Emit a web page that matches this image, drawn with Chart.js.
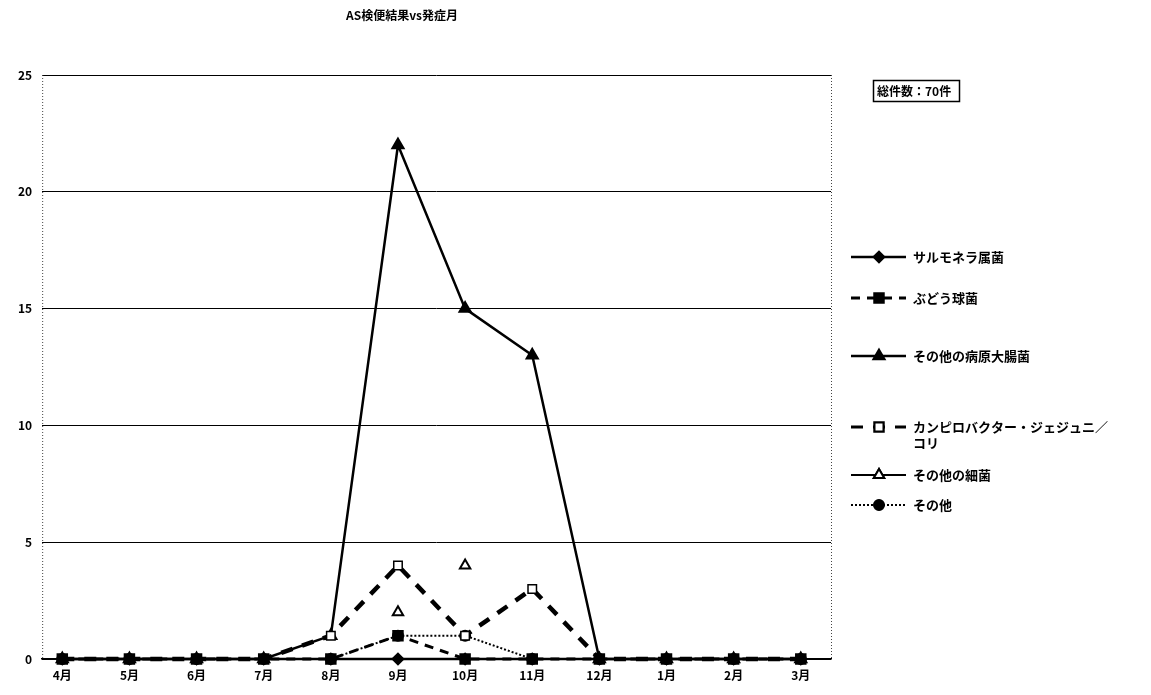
<!DOCTYPE html>
<html>
<head>
<meta charset="utf-8">
<script src="https://cdn.jsdelivr.net/npm/chart.js@4"></script>
<style>
  body { margin: 0; background: #fff; }
  #wrap { position: relative; width: 1151px; height: 695px; }
</style>
</head>
<body>
<div id="wrap"><canvas id="asChart" width="1151" height="695"></canvas></div>
<script>
// data
var months = ['4月', '5月', '6月', '7月', '8月', '9月', '10月', '11月', '12月', '1月', '2月', '3月'];
var seriesNames = ['サルモネラ属菌', 'ぶどう球菌', 'その他の病原大腸菌', 'カンピロバクター・ジェジュニ／コリ', 'その他の細菌', 'その他'];
var salmonella = [0, 0, 0, 0, 0, 0, 0, 0, 0, 0, 0, 0];
var staph = [0, 0, 0, 0, 0, 1, 0, 0, 0, 0, 0, 0];
var ecoli = [0, 0, 0, 0, 1, 22, 15, 13, 0, 0, 0, 0];
var campylo = [0, 0, 0, 0, 1, 4, 1, 3, 0, 0, 0, 0];
var otherBact = [null, null, null, null, null, 2, 4, null, null, null, null, null];
var others = [0, 0, 0, 0, 0, 1, 1, 0, 0, 0, 0, 0];
var yTicks = [0, 5, 10, 15, 20, 25];
var titleText = 'AS検便結果vs発症月';
var totalText = '総件数：70件';

var FONT = '"Noto Sans CJK JP", "DejaVu Sans", sans-serif';

function pts(arr) {
    return arr.map(function (v, i) { return { x: i, y: v }; });
}

var datasets = [
    { label: seriesNames[0], data: pts(salmonella), borderWidth: 2.5, borderDash: [], pointStyle: 'rectRot', pointRadius: 5, pointBackgroundColor: '#000', order: 3 },
    { label: seriesNames[1], data: pts(staph), borderWidth: 3, borderDash: [9, 7], pointStyle: 'rect', pointRadius: 6, pointBackgroundColor: '#000', order: 0 },
    { label: seriesNames[2], data: pts(ecoli), borderWidth: 2.5, borderDash: [], pointStyle: 'triangle', pointRadius: 6, pointBackgroundColor: '#000', order: 2 },
    { label: seriesNames[3], data: pts(campylo), borderWidth: 4.5, borderDash: [12, 10], pointStyle: 'rect', pointRadius: 6, pointBackgroundColor: '#fff', pointBorderWidth: 1.5, order: 1 },
    { label: seriesNames[4], data: pts(otherBact), borderWidth: 2, borderDash: [], showLine: false, pointStyle: 'triangle', pointRadius: 6, pointBackgroundColor: '#fff', pointBorderWidth: 2, order: 4 },
    { label: seriesNames[5], data: pts(others), borderWidth: 2, borderDash: [2, 2], pointStyle: 'circle', pointRadius: 5, pointBackgroundColor: '#000', order: 5 }
];
datasets.forEach(function (d) {
    d.borderColor = '#000';
    d.pointBorderColor = '#000';
    d.tension = 0;
    d.spanGaps = false;
    d.clip = false;
});

// title, count box, legend and dotted frame
var extras = {
    id: 'extras',
    beforeDatasetsDraw: function (chart) {
        var c = chart.ctx, a = chart.chartArea;
        c.save();
        c.strokeStyle = '#444';
        c.lineWidth = 1;
        c.setLineDash([1, 2]);
        c.beginPath();
        c.moveTo(a.left + 0.5, a.top);
        c.lineTo(a.left + 0.5, a.bottom);
        c.moveTo(a.right + 0.5, a.top);
        c.lineTo(a.right + 0.5, a.bottom);
        c.stroke();
        c.restore();
    },
    afterDraw: function (chart) {
        var c = chart.ctx;
        c.save();
        c.fillStyle = '#000';
        c.font = 'bold 12px ' + FONT;
        c.textAlign = 'center';
        c.textBaseline = 'middle';
        c.fillText(titleText, 402, 15);

        // count box
        c.strokeStyle = '#000';
        c.lineWidth = 1.5;
        c.strokeRect(873.5, 80.5, 86, 21);
        c.textAlign = 'left';
        c.font = 'bold 12px ' + FONT;
        c.fillText(totalText, 877, 91);

        // legend
        var rows = [257, 298, 356, 427, 475, 505];
        chart.data.datasets.forEach(function (d, i) {
            var y = rows[i];
            c.strokeStyle = '#000';
            c.lineWidth = Math.min(d.borderWidth, 3);
            c.setLineDash(d.borderDash || []);
            c.beginPath();
            c.moveTo(851, y);
            c.lineTo(906, y);
            c.stroke();
            c.setLineDash([]);
            Chart.helpers.drawPoint(c, {
                pointStyle: d.pointStyle,
                radius: d.pointRadius,
                rotation: 0,
                borderWidth: d.pointBorderWidth || 1
            }, 879, y);
            c.fillStyle = d.pointBackgroundColor;
            c.strokeStyle = '#000';
            c.lineWidth = d.pointBorderWidth || 1;
            c.fill();
            c.stroke();
            c.fillStyle = '#000';
            c.font = 'bold 13px ' + FONT;
            c.textAlign = 'left';
            if (i === 3) {
                c.fillText('カンピロバクター・ジェジュニ／', 913, y);
                c.fillText('コリ', 913, y + 16);
            } else {
                c.fillText(d.label, 913, y);
            }
        });
        c.restore();
    }
};

var ctx = document.getElementById('asChart').getContext('2d');
var asChart = new Chart(ctx, {
    type: 'line',
    data: { datasets: datasets },
    options: {
        responsive: false,
        animation: false,
        layout: { padding: { top: 75, left: 8, right: 320, bottom: 8 } },
        plugins: {
            legend: { display: false },
            title: { display: false },
            tooltip: { enabled: false }
        },
        scales: {
            x: {
                type: 'linear',
                min: -0.3,
                max: 11.45,
                grid: { display: false },
                border: { color: '#000', width: 1.5 },
                afterBuildTicks: function (s) {
                    s.ticks = months.map(function (m, i) { return { value: i }; });
                },
                afterFit: function (s) { s.height = 28; },
                ticks: {
                    color: '#000',
                    padding: 1,
                    font: { family: FONT, size: 12, weight: 'bold' },
                    maxRotation: 0,
                    autoSkip: false,
                    callback: function (v) { return months[v]; }
                }
            },
            y: {
                min: 0,
                max: 25,
                afterBuildTicks: function (s) {
                    s.ticks = yTicks.map(function (v) { return { value: v }; });
                },
                grid: { color: '#000', lineWidth: 1, drawTicks: false },
                border: { display: false },
                ticks: {
                    color: '#000',
                    padding: 10,
                    font: { family: FONT, size: 12, weight: 'bold' }
                }
            }
        }
    },
    plugins: [extras]
});
</script>
</body>
</html>
